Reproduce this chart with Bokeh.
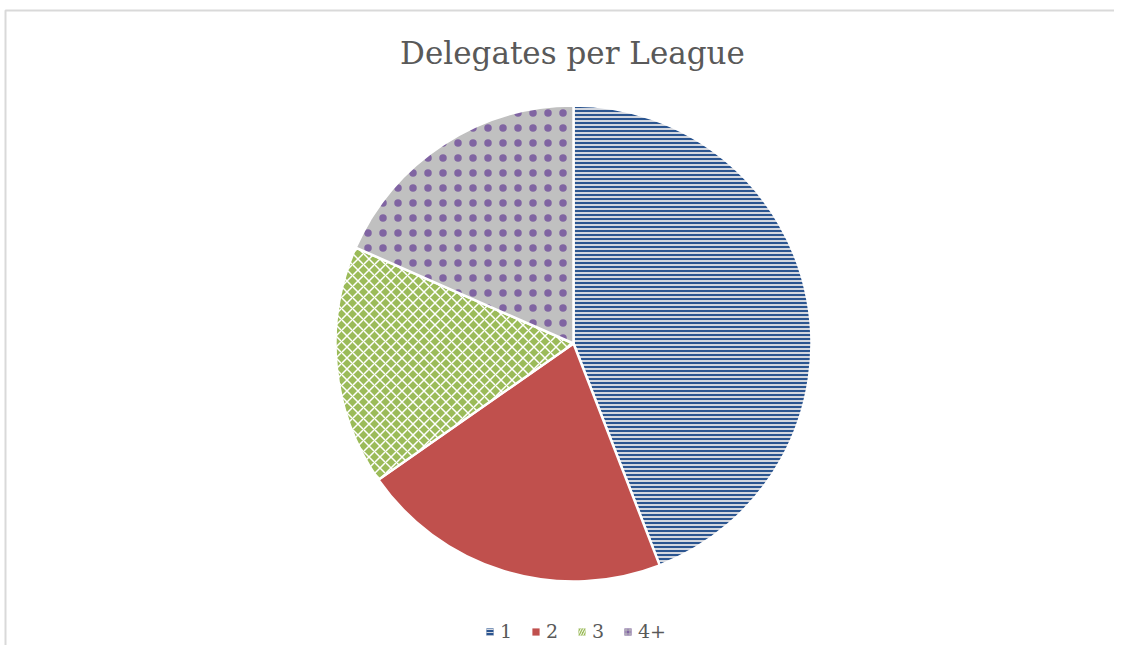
import math
from bokeh.plotting import figure
from bokeh.models import Legend, LegendItem
from bokeh.core.properties import value
from bokeh.embed import file_html
from bokeh.resources import INLINE

categories = ["1", "2", "3", "4+"]
shares = [44.1, 21.2, 16.3, 18.4]
title_text = "Delegates per League"

W, H = 1114, 645
p = figure(width=W, height=H, x_range=(0, W), y_range=(0, H),
           output_backend="svg", toolbar_location=None, min_border=0)
p.axis.visible = False
p.grid.visible = False
p.outline_line_color = None
p.background_fill_color = "white"
p.border_fill_color = "white"

# chart-area border (top and left edges visible)
p.line(x=[5, 5, W], y=[0, H - 10, H - 10], line_color="#d9d9d9", line_width=2)

cx, cy, r = 573, 302, 238
total = sum(shares)
starts, ends = [], []
acc = 0.0
for v in shares:
    a0 = math.pi / 2 - 2 * math.pi * acc / total
    acc += v
    a1 = math.pi / 2 - 2 * math.pi * acc / total
    starts.append(a0)
    ends.append(a1)

styles = [
    dict(fill_color="#d3d7df", hatch_color="#2b5590", hatch_pattern="horizontal_line", hatch_scale=4, hatch_weight=2),
    dict(fill_color="#c0504d", hatch_pattern="blank"),
    dict(fill_color="#9bbb59", hatch_color="white", hatch_pattern="diagonal_cross", hatch_scale=11, hatch_weight=1.5),
    dict(fill_color="#c0c0c0", hatch_color="#8064a2", hatch_pattern="dot", hatch_scale=15, hatch_weight=4),
]
legend_styles = [
    dict(fill_color="#2b5590", hatch_color="#d3d7df", hatch_pattern="horizontal_line", hatch_scale=3, hatch_weight=1),
    dict(fill_color="#c0504d"),
    dict(fill_color="#9bbb59", hatch_color="white", hatch_pattern="right_diagonal_line", hatch_scale=5, hatch_weight=1),
    dict(fill_color="#8064a2", hatch_color="#c0c0c0", hatch_pattern="cross", hatch_scale=4, hatch_weight=1),
]

items = []
for i, cat in enumerate(categories):
    p.wedge(x=cx, y=cy, radius=r, start_angle=starts[i], end_angle=ends[i],
            direction="clock", line_color="white", line_width=2.5, **styles[i])
    # off-canvas proxy glyph used only for the legend swatch
    lr = p.rect(x=[-500], y=[-500], width=1, height=1, line_color=None, **legend_styles[i])
    items.append(LegendItem(label=cat, renderers=[lr]))

p.text(x=[572], y=[593], text=[title_text], text_font=value("DejaVu Serif"),
       text_font_size="31px", text_color="#595959", text_align="center",
       text_baseline="middle")

legend = Legend(items=items, orientation="horizontal", location=(485, 3),
                label_text_font="DejaVu Serif", label_text_font_size="19px",
                label_text_color="#595959", glyph_width=9, glyph_height=9,
                label_standoff=6, spacing=11, padding=4, border_line_color=None,
                background_fill_alpha=0)
p.add_layout(legend, "center")

open("out.html", "w").write(file_html(p, INLINE))
